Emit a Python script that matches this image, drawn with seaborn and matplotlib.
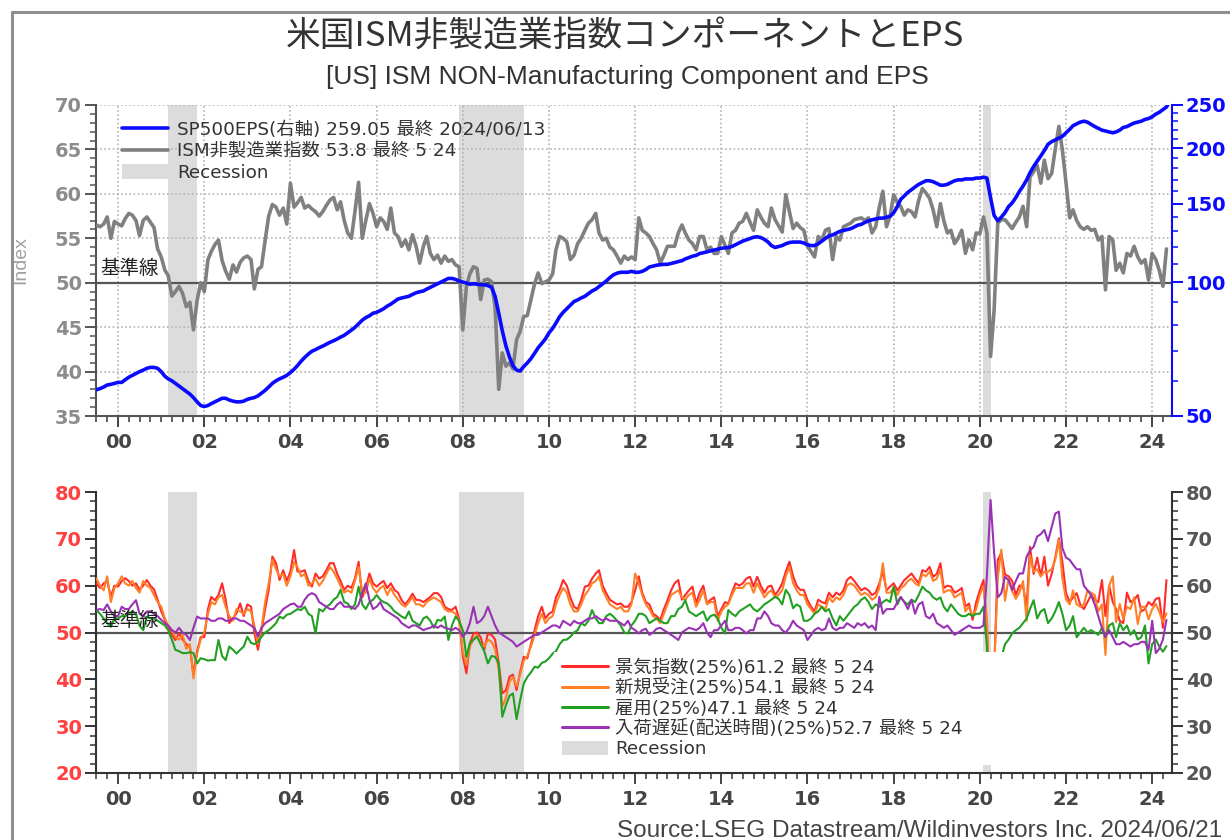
import numpy as np
import pandas as pd
import matplotlib
matplotlib.use("Agg")
import matplotlib.pyplot as plt
import matplotlib.dates as mdates
from matplotlib.ticker import MultipleLocator, FixedLocator, NullFormatter, FuncFormatter
from matplotlib.lines import Line2D
from matplotlib.patches import Patch
import seaborn as sns

# ---------------------------------------------------------------- data
# monthly observations, Jul 1999 .. May 2024
start_month = "1999-07-01"
end_month = "2024-05-01"

ism_services = [
    56.5, 56.3, 56.6, 57.4, 55.0, 56.9,
    56.6, 56.4, 57.2, 57.8, 57.6, 57.0, 55.3, 57.0, 57.4, 56.8, 56.2, 53.8,
    52.9, 51.4, 50.8, 48.5, 49.0, 49.6, 48.8, 47.3, 47.8, 44.7, 48.0, 50.0,
    49.0, 52.6, 53.5, 54.3, 54.8, 52.5, 51.3, 50.4, 52.0, 51.2, 52.3, 52.8,
    53.0, 52.6, 49.3, 51.5, 51.8, 54.8, 57.5, 58.8, 58.5, 57.6, 58.4, 56.6,
    61.2, 58.5, 59.0, 59.6, 58.4, 58.7, 58.3, 58.0, 57.5, 58.0, 58.7, 59.3,
    59.6, 58.2, 59.1, 57.0, 55.6, 55.0, 58.0, 61.3, 55.0, 57.0, 58.9, 57.8,
    56.3, 57.3, 56.9, 56.0, 58.4, 55.6, 55.2, 54.1, 54.8, 53.7, 55.4, 54.1,
    52.2, 54.1, 55.2, 53.3, 52.6, 53.1, 52.2, 53.0, 52.4, 52.6, 52.0, 51.8,
    44.7, 49.6, 51.0, 51.8, 51.6, 48.1, 50.3, 50.4, 50.1, 47.3, 38.0, 42.1,
    40.6, 41.0, 40.3, 43.6, 44.5, 46.2, 46.3, 48.1, 49.9, 51.1, 49.9, 50.1,
    50.3, 51.0, 53.7, 55.2, 55.0, 54.6, 52.6, 53.1, 54.4, 55.0, 55.9, 56.7,
    57.1, 57.8, 55.6, 54.8, 55.0, 54.0, 53.7, 53.0, 52.2, 53.0, 52.6, 52.9,
    52.6, 57.3, 55.9, 55.6, 55.2, 54.4, 53.7, 52.2, 53.1, 54.1, 54.1, 54.1,
    55.6, 56.5, 55.6, 54.8, 54.4, 53.7, 55.2, 55.2, 53.7, 54.0, 53.3, 53.3,
    55.2, 54.2, 53.3, 55.6, 55.9, 56.7, 56.9, 57.8, 56.8, 55.9, 58.2, 57.4,
    56.7, 56.3, 58.4, 57.1, 56.4, 55.7, 59.9, 58.0, 56.1, 56.7, 56.2, 55.9,
    54.1, 53.5, 52.9, 55.2, 54.8, 55.9, 56.1, 52.6, 55.2, 54.8, 56.3, 56.5,
    56.7, 57.1, 57.2, 57.3, 57.0, 57.3, 55.6, 56.3, 58.5, 60.3, 56.3, 57.5,
    59.9, 59.0, 58.6, 57.6, 58.2, 58.0, 57.4, 59.3, 60.6, 60.1, 59.5, 58.2,
    56.3, 58.9, 57.0, 55.6, 55.9, 54.4, 55.0, 55.9, 53.3, 54.8, 53.7, 55.6,
    55.5, 57.4, 55.6, 41.7, 46.9, 56.7, 57.1, 57.1, 56.6, 56.1, 56.8, 57.4,
    58.6, 56.3, 61.9, 62.5, 63.2, 61.2, 63.8, 61.7, 62.3, 65.0, 67.6, 64.9,
    61.2, 57.3, 58.2, 57.0, 56.3, 56.0, 56.3, 55.9, 56.0, 54.8, 55.2, 49.2,
    55.2, 54.8, 51.4, 52.2, 51.1, 53.3, 53.0, 54.1, 52.9, 52.2, 52.6, 50.3,
    53.3, 52.6, 51.4, 49.6, 53.8,
]

sp500_eps = [
    57.3, 57.6, 58.1, 58.7, 58.9, 59.2,
    59.5, 59.5, 60.3, 61.1, 61.7, 62.3, 62.9, 63.4, 64.0, 64.3, 64.3, 64.0,
    62.9, 61.4, 60.6, 60.0, 59.2, 58.4, 57.6, 56.8, 56.0, 55.0, 53.8, 52.8,
    52.5, 52.8, 53.3, 53.8, 54.3, 54.8, 54.8, 54.3, 54.0, 53.8, 53.8, 54.0,
    54.5, 54.8, 55.0, 55.5, 56.3, 57.1, 58.1, 59.2, 60.0, 60.6, 61.1, 61.7,
    62.6, 63.7, 64.9, 66.4, 67.7, 68.9, 69.9, 70.5, 71.2, 71.8, 72.5, 73.2,
    73.8, 74.5, 75.2, 75.9, 76.9, 78.0, 79.1, 80.6, 82.1, 83.2, 84.0, 85.1,
    85.5, 86.3, 87.1, 88.3, 89.2, 90.4, 91.6, 92.1, 92.5, 92.9, 93.8, 94.6,
    95.1, 95.5, 96.4, 97.3, 98.2, 99.1, 100.0, 100.9, 101.9, 101.9, 101.4, 100.5,
    100.0, 99.5, 98.9, 99.1, 98.9, 98.6, 98.6, 98.2, 97.3, 92.9, 85.1, 77.7,
    71.8, 67.7, 64.9, 63.4, 63.1, 64.6, 65.8, 67.3, 69.2, 71.2, 72.8, 74.5,
    76.9, 78.7, 80.9, 83.6, 85.5, 87.1, 88.7, 90.4, 91.2, 92.1, 92.9, 94.2,
    95.5, 96.4, 97.7, 99.1, 100.5, 102.3, 103.8, 104.7, 105.2, 105.2, 105.2, 105.7,
    105.2, 105.2, 105.7, 106.7, 108.1, 108.6, 109.1, 109.4, 109.6, 109.6, 110.1, 110.6,
    111.2, 111.7, 112.7, 113.5, 114.3, 114.8, 115.9, 116.4, 116.9, 117.5, 118.0, 118.5,
    119.1, 119.4, 119.6, 120.2, 121.3, 122.4, 123.6, 124.4, 125.3, 126.1, 126.4, 125.9,
    124.7, 123.0, 120.8, 119.6, 120.2, 120.8, 121.9, 122.7, 123.0, 123.0, 123.0, 122.4,
    121.3, 120.8, 120.8, 121.9, 123.6, 125.3, 127.0, 127.6, 128.8, 130.0, 130.6, 131.2,
    131.8, 133.0, 134.2, 134.8, 136.1, 137.3, 138.0, 138.6, 139.2, 139.2, 139.9, 140.5,
    143.2, 147.8, 153.4, 156.2, 159.1, 161.3, 163.6, 165.8, 167.4, 168.9, 168.9, 168.1,
    166.6, 165.1, 165.1, 165.8, 167.4, 168.9, 169.7, 169.7, 170.5, 170.5, 170.5, 171.3,
    171.3, 172.1, 171.3, 154.8, 141.2, 137.3, 139.9, 143.2, 147.8, 150.6, 154.8, 159.8,
    164.3, 169.7, 176.0, 181.8, 186.9, 192.1, 197.5, 204.0, 206.8, 208.7, 210.6, 212.6,
    216.5, 220.5, 224.6, 226.7, 228.8, 229.9, 228.8, 226.2, 223.6, 221.6, 219.5, 218.5,
    217.5, 216.5, 217.5, 219.5, 222.6, 223.6, 225.7, 227.7, 228.8, 229.9, 232.0, 233.1,
    235.2, 238.5, 240.7, 244.0, 247.4,
]
eps_last_date = "2024-06-13"
eps_last_value = 259.05

business_activity = [
    60.5, 59.5, 60.5, 61.0, 57.6, 60.0,
    59.8, 61.0, 61.6, 61.0, 60.0, 60.5, 59.1, 60.0, 61.2, 60.0, 59.2, 57.0,
    54.5, 52.7, 51.0, 49.5, 48.4, 49.8, 48.5, 47.5, 47.0, 41.0, 46.0, 49.0,
    49.0, 55.0, 57.6, 56.9, 58.0, 60.5, 57.0, 52.0, 53.0, 54.1, 56.2, 53.5,
    56.0, 55.5, 50.0, 46.3, 50.5, 55.0, 59.1, 66.2, 64.8, 61.2, 63.3, 61.0,
    63.0, 67.6, 63.0, 63.0, 63.3, 61.0, 59.8, 62.6, 61.5, 62.0, 63.3, 64.8,
    64.8, 62.5, 61.0, 59.1, 60.0, 59.5, 61.5, 65.1, 57.5, 59.5, 62.6, 60.5,
    59.8, 60.5, 61.0, 59.5, 60.5, 59.1, 58.5, 56.9, 56.0, 57.0, 58.3, 57.0,
    56.9, 56.5, 57.0, 57.6, 58.4, 58.4, 57.6, 55.5, 55.0, 54.8, 55.5, 53.0,
    45.0, 41.3, 47.7, 49.8, 50.0, 49.0, 46.3, 49.8, 49.5, 48.5, 43.4, 37.0,
    37.7, 40.6, 41.0, 37.7, 41.5, 44.8, 44.5, 47.5, 50.5, 53.5, 55.5, 53.0,
    54.0, 54.5, 57.5, 59.1, 61.2, 60.0, 57.5, 55.5, 55.0, 57.0, 59.8, 60.0,
    61.5, 62.6, 63.3, 60.0, 58.4, 57.0, 56.5, 56.0, 56.2, 55.5, 55.5, 56.5,
    59.0, 62.0, 58.5, 56.5, 56.0, 54.0, 53.5, 52.7, 55.0, 56.9, 59.0, 60.5,
    61.2, 57.0, 58.0, 59.0, 59.8, 56.2, 58.5, 60.0, 56.2, 57.0, 57.5, 53.5,
    55.0, 56.5, 56.2, 58.5, 60.5, 60.0, 60.5, 61.5, 61.9, 59.8, 61.9, 60.0,
    58.5, 59.8, 60.0, 58.0, 59.0, 60.5, 63.0, 65.1, 62.0, 60.0, 59.1, 59.1,
    56.9, 55.5, 54.5, 57.0, 56.5, 56.2, 58.5, 57.5, 58.5, 58.0, 59.0, 61.2,
    61.9, 61.0, 60.0, 59.0, 59.5, 59.0, 58.0, 58.5, 60.5, 63.0, 59.0, 59.8,
    60.5, 59.0, 60.0, 61.2, 61.9, 62.6, 61.5, 60.5, 63.3, 63.0, 64.0, 61.9,
    62.5, 64.8, 59.5, 60.0, 59.8, 58.5, 58.9, 59.5, 55.5, 56.2, 52.7, 56.5,
    59.0, 61.2, 51.0, 26.0, 41.0, 65.5, 67.0, 62.4, 62.0, 61.0, 58.0, 60.0,
    59.9, 55.5, 68.3, 62.5, 66.0, 62.0, 66.2, 60.0, 62.5, 66.0, 70.1, 65.0,
    58.4, 56.5, 57.5, 58.4, 56.0, 55.0, 56.5, 58.0, 57.0, 56.5, 61.2, 53.5,
    60.0, 56.5, 55.0, 52.5, 52.0, 58.5, 56.5, 57.0, 58.0, 54.5, 55.0, 56.5,
    55.8, 57.2, 57.4, 51.0, 61.2,
]

new_orders = [
    61.5, 60.0, 59.0, 62.0, 56.5, 59.5,
    60.5, 62.0, 60.5, 60.0, 61.0, 59.5, 58.5, 61.0, 60.0, 59.5, 58.0, 56.5,
    55.5, 53.0, 51.5, 50.5, 49.0, 48.5, 49.5, 46.5, 47.5, 40.2, 45.5, 48.5,
    50.0, 54.0, 56.5, 56.0, 57.5, 58.0, 55.5, 53.5, 52.5, 55.0, 54.5, 54.0,
    55.0, 54.5, 51.5, 47.5, 51.0, 56.5, 60.5, 65.5, 63.5, 62.0, 62.5, 60.0,
    62.0, 65.0, 64.0, 62.0, 62.5, 60.0, 60.5, 61.5, 60.0, 61.0, 62.5, 64.0,
    63.0, 61.5, 60.0, 58.5, 59.0, 58.5, 61.0, 64.0, 58.5, 58.5, 61.5, 59.5,
    58.5, 59.5, 60.0, 58.0, 59.5, 58.0, 57.0, 56.0, 55.5, 56.5, 57.5, 56.0,
    56.0, 55.5, 56.5, 57.0, 57.5, 57.0, 56.5, 55.0, 54.5, 54.5, 54.0, 52.5,
    46.0, 43.0, 47.0, 48.5, 49.5, 47.5, 47.0, 48.5, 48.0, 46.5, 42.0, 34.2,
    36.0, 39.5, 40.5, 38.5, 41.0, 44.0, 45.0, 47.0, 49.5, 52.0, 54.0, 52.0,
    53.0, 53.5, 56.0, 58.0, 59.5, 58.5, 56.0, 54.5, 54.5, 56.0, 58.0, 59.0,
    60.5, 61.0, 62.0, 59.0, 57.5, 56.0, 55.5, 55.0, 55.5, 54.5, 54.5, 56.0,
    62.6, 60.5, 58.0, 56.0, 55.0, 53.5, 53.0, 52.0, 54.0, 56.0, 58.0, 58.5,
    59.0, 57.5, 57.0, 58.0, 58.5, 55.5, 57.0, 59.0, 56.0, 56.5, 56.5, 52.5,
    54.5, 55.5, 56.0, 58.0, 59.5, 59.5, 59.5, 60.5, 60.5, 58.5, 60.5, 59.0,
    57.5, 58.5, 59.0, 57.5, 58.0, 59.0, 62.0, 64.0, 60.5, 59.0, 58.0, 58.0,
    56.0, 55.0, 54.0, 56.0, 55.5, 55.0, 57.5, 56.5, 57.5, 57.0, 58.0, 60.0,
    60.5, 60.0, 59.0, 58.0, 58.5, 58.0, 57.0, 57.5, 59.5, 64.8, 58.5, 58.5,
    59.5, 58.0, 59.5, 60.0, 61.0, 61.5, 60.5, 60.0, 62.5, 62.0, 63.0, 61.0,
    61.5, 63.5, 58.5, 59.0, 59.0, 57.5, 58.0, 58.5, 54.5, 55.5, 53.5, 55.0,
    58.0, 60.0, 52.9, 32.9, 41.9, 61.6, 67.7, 56.8, 61.5, 58.8, 57.2, 58.5,
    61.0, 52.5, 66.5, 63.0, 63.5, 62.0, 63.0, 63.0, 63.5, 65.5, 69.8, 61.5,
    57.0, 56.0, 59.0, 56.0, 55.5, 56.0, 59.0, 58.5, 58.0, 54.5, 56.0, 45.2,
    60.0, 62.0, 52.2, 56.1, 52.9, 55.5, 55.0, 57.5, 51.8, 55.5, 55.5, 52.8,
    55.0, 56.1, 54.4, 52.2, 54.1,
]

employment = [
    54.8, 54.0, 53.0, 52.0, 51.2, 53.0,
    53.0, 53.5, 53.5, 54.0, 54.5, 54.0, 51.5, 50.5, 53.4, 53.0, 53.0, 52.5,
    52.0, 51.5, 50.5, 48.5, 46.3, 46.0, 45.6, 45.6, 45.8, 45.6, 43.4, 44.5,
    44.3, 44.0, 44.1, 44.1, 48.4, 45.0, 44.1, 47.0, 46.3, 45.5, 46.3, 47.0,
    49.1, 47.8, 47.5, 48.0, 49.1, 50.0, 50.5, 51.2, 52.0, 53.4, 53.0, 53.8,
    54.0, 54.5, 55.0, 54.8, 55.5, 54.0, 53.5, 49.8, 55.0, 54.5, 55.5, 56.0,
    57.0, 57.6, 59.1, 56.5, 56.2, 55.0, 56.0, 59.8, 56.0, 55.0, 56.5, 57.0,
    58.0, 57.0, 56.5, 56.2, 55.5, 54.5, 54.0, 53.4, 53.0, 54.5, 52.5, 52.0,
    51.5, 53.0, 53.4, 52.5, 51.0, 52.7, 52.5, 53.4, 48.4, 51.5, 53.4, 52.5,
    50.5, 44.8, 47.7, 48.5, 49.1, 47.5, 46.0, 43.4, 45.0, 44.8, 43.4, 32.0,
    34.5, 36.5, 37.0, 31.5, 35.5, 39.1, 40.5, 41.5, 42.7, 42.5, 43.5, 43.8,
    44.5, 45.5, 46.0, 47.5, 48.4, 48.5, 49.1, 50.0, 50.5, 52.0, 51.5, 52.5,
    54.8, 53.0, 52.0, 52.0, 53.5, 54.0, 53.4, 52.5, 51.5, 50.0, 49.8, 51.5,
    52.5, 54.0, 54.0, 53.5, 52.0, 52.5, 53.0, 52.5, 52.0, 52.0, 53.5, 53.5,
    55.0, 55.5, 56.9, 54.5, 54.0, 53.5, 54.0, 54.5, 52.5, 53.5, 53.8, 53.0,
    51.0, 49.8, 54.8, 54.0, 53.5, 54.5, 55.0, 55.5, 56.0, 55.0, 54.5, 55.2,
    56.0, 56.5, 57.0, 57.6, 57.2, 56.0, 59.1, 58.0, 55.2, 56.0, 55.5, 52.5,
    52.5, 53.0, 54.0, 54.5, 55.5, 54.5, 55.0, 53.0, 51.5, 53.5, 52.5, 53.5,
    54.5, 55.5, 56.0, 57.0, 57.5, 56.5, 55.0, 56.0, 55.5, 56.5, 57.0, 56.5,
    59.8, 56.0, 57.5, 56.5, 56.0, 57.0, 56.5, 58.0, 59.8, 59.0, 58.5, 57.5,
    57.0, 57.5, 55.5, 54.5, 56.0, 55.0, 54.0, 53.5, 53.5, 54.0, 53.5, 54.0,
    54.0, 55.5, 47.0, 30.0, 31.8, 40.0, 44.5, 47.5, 48.5, 49.8, 50.5, 51.0,
    52.0, 53.0, 55.0, 56.9, 53.0, 54.5, 55.0, 52.0, 53.0, 54.5, 56.5, 54.0,
    50.5, 51.5, 53.5, 49.0, 50.0, 51.0, 50.0, 50.5, 50.0, 49.5, 51.0, 49.0,
    51.5, 52.0, 49.0, 52.0, 50.5, 51.5, 49.5, 50.5, 48.5, 49.0, 51.5, 43.4,
    47.5, 48.5, 47.0, 45.9, 47.1,
]

supplier_deliveries = [
    54.8, 55.0, 54.8, 56.0, 54.5, 53.5,
    53.5, 55.5, 55.0, 55.0, 56.0, 56.9, 54.0, 53.5, 54.5, 54.5, 54.0, 53.5,
    52.7, 52.0, 51.5, 50.5, 50.0, 51.0, 50.0, 49.5, 48.4, 51.0, 53.4, 53.0,
    53.0, 53.0, 52.5, 52.5, 53.0, 53.0, 52.5, 52.5, 53.0, 53.0, 52.5, 52.5,
    52.0, 51.5, 51.0, 49.1, 51.0, 52.0, 52.5, 53.0, 53.5, 54.0, 55.0, 55.5,
    56.0, 56.2, 55.5, 55.5, 57.0, 58.0, 58.4, 58.0, 56.5, 56.0, 55.5, 55.0,
    55.0, 56.0, 56.5, 55.5, 55.5, 55.5, 55.0, 56.0, 58.4, 60.5, 57.0, 55.0,
    55.5, 56.5, 55.0, 54.5, 54.0, 53.5, 53.0, 52.0, 51.5, 51.0, 51.5, 51.5,
    51.0, 50.5, 50.8, 51.0, 51.5, 51.0, 51.5, 51.0, 50.8, 50.5, 51.0, 50.5,
    49.1, 50.0, 52.0, 55.5, 52.0, 52.5, 53.5, 55.5, 53.5, 51.5, 50.0, 49.5,
    49.0, 48.5, 48.0, 47.0, 47.5, 48.0, 48.5, 49.0, 49.5, 49.5, 50.0, 50.5,
    51.0, 51.5, 51.5, 51.0, 52.5, 52.0, 51.5, 52.5, 52.0, 52.0, 52.5, 53.0,
    53.0, 53.5, 53.0, 52.5, 53.0, 52.5, 52.5, 52.5, 52.0, 51.5, 52.5, 51.0,
    50.5, 49.8, 50.5, 50.8, 49.5, 50.0, 50.8, 51.0, 50.5, 50.0, 49.5, 49.0,
    48.4, 50.0, 50.5, 51.0, 50.8, 50.5, 51.0, 52.0, 50.0, 49.0, 50.5, 50.5,
    51.5, 52.5, 50.5, 50.5, 51.0, 51.0, 50.5, 49.8, 50.5, 50.5, 53.0, 53.0,
    54.5, 53.5, 52.0, 51.5, 51.5, 50.5, 50.0, 51.0, 52.5, 51.5, 51.0, 50.5,
    48.4, 49.5, 50.5, 51.0, 50.5, 50.8, 53.0, 51.0, 50.5, 51.0, 51.0, 52.0,
    51.5, 51.0, 52.0, 51.5, 52.0, 51.0, 51.5, 50.5, 57.6, 54.0, 55.0, 55.0,
    55.0, 56.5, 57.6, 56.5, 55.0, 57.0, 54.0, 56.0, 56.5, 53.5, 53.0, 54.0,
    52.0, 51.5, 51.0, 51.5, 50.5, 49.5, 50.0, 50.5, 51.0, 51.5, 51.0, 51.0,
    51.0, 51.5, 62.1, 78.3, 67.0, 57.5, 58.4, 61.9, 61.2, 59.1, 61.0, 62.6,
    62.6, 66.2, 67.5, 68.3, 70.5, 71.0, 71.9, 69.5, 72.5, 75.4, 75.8, 68.0,
    66.0, 65.5, 64.5, 63.5, 63.5, 60.0, 59.0, 58.0, 56.0, 53.5, 51.0, 49.1,
    50.5, 49.0, 47.5, 47.5, 48.0, 47.5, 47.0, 47.5, 47.5, 48.0, 48.0, 46.3,
    52.5, 45.6, 46.5, 48.5, 52.7,
]

# recession months (first month, last month)
recessions = [("2001-03-01", "2001-11-01"),
              ("2007-12-01", "2009-06-01"),
              ("2020-02-01", "2020-04-01")]

title_jp = "米国ISM非製造業指数コンポーネントとEPS"
title_en = "[US] ISM NON-Manufacturing Component and EPS"
source_text = "Source:LSEG Datastream/Wildinvestors Inc. 2024/06/21"
top_labels = ["SP500EPS(右軸) 259.05 最終 2024/06/13",
              "ISM非製造業指数 53.8 最終 5 24",
              "Recession"]
bottom_labels = ["景気指数(25%)61.2 最終 5 24",
                 "新規受注(25%)54.1 最終 5 24",
                 "雇用(25%)47.1 最終 5 24",
                 "入荷遅延(配送時間)(25%)52.7 最終 5 24",
                 "Recession"]

# ---------------------------------------------------------------- style
sns.set_style("ticks")
plt.rcParams["font.family"] = ["Liberation Sans", "Noto Sans CJK JP", "DejaVu Sans"]
LEGEND_FONT = {"family": ["DejaVu Sans", "Noto Sans CJK JP"], "size": 13.2}
TICK_FAMILY = "DejaVu Sans"

C_GRAY = "#808080"
C_BLUE = "#0a0aff"
C_RED = "#ff2a2a"
C_ORANGE = "#ff7f27"
C_GREEN = "#22a022"
C_PURPLE = "#9932b4"
C_REC = "#dcdcdc"
C_AXIS = "#555555"

months = pd.date_range(start_month, end_month, freq="MS")
eps_dates = months.append(pd.DatetimeIndex([eps_last_date]))
eps_values = sp500_eps + [eps_last_value]

W, H = 1230, 840
fig = plt.figure(figsize=(W / 100, H / 100), dpi=100)
fig.patch.set_facecolor("white")


def frac_rect(x0, y0, x1, y1):
    return [x0 / W, 1 - y1 / H, (x1 - x0) / W, (y1 - y0) / H]


ax1 = fig.add_axes(frac_rect(96, 105, 1172, 416))
ax1r = ax1.twinx()
ax2 = fig.add_axes(frac_rect(96, 492, 1172, 773))

xmin, xmax = pd.Timestamp("1999-06-28"), pd.Timestamp("2024-06-17")

# ---------------------------------------------------------------- top panel
for s, e in recessions:
    ax1.axvspan(pd.Timestamp(s), pd.Timestamp(e), color=C_REC, lw=0, zorder=0)
ax1.grid(True, which="major", axis="both", linestyle=(0, (1, 1.5)),
         color="#b4b4b4", lw=1.2, zorder=0.5)
ax1.axhline(50, color=C_AXIS, lw=1.6, zorder=1)
sns.lineplot(x=months, y=ism_services, ax=ax1, color=C_GRAY, lw=2.6,
             estimator=None, legend=False, zorder=3)
ax1r.set_yscale("log")
sns.lineplot(x=eps_dates, y=eps_values, ax=ax1r, color=C_BLUE, lw=2.6,
             estimator=None, legend=False, zorder=3)

ax1.set_xlim(xmin, xmax)
ax1.set_ylim(35, 70)
ax1r.set_ylim(50, 250)
ax1.yaxis.set_major_locator(MultipleLocator(5))
ax1.yaxis.set_minor_locator(MultipleLocator(1))
ax1r.yaxis.set_major_locator(FixedLocator([50, 100, 150, 200, 250]))
ax1r.yaxis.set_minor_locator(FixedLocator([60, 70, 80, 90] + list(range(110, 250, 10))))
ax1r.yaxis.set_major_formatter(FuncFormatter(lambda v, p: f"{v:.0f}"))
ax1r.yaxis.set_minor_formatter(NullFormatter())

ax1.set_xlabel("")
ax1.set_ylabel("Index", color="#a0a0a0", fontsize=14)
ax1.yaxis.set_label_coords(-0.062, 0.5)
ax1r.set_ylabel("")

ax1.spines["top"].set_visible(False)
ax1r.spines["top"].set_visible(False)
ax1.spines["right"].set_visible(False)
ax1r.spines["left"].set_visible(False)
ax1r.spines["bottom"].set_visible(False)
ax1.spines["left"].set_color(C_AXIS)
ax1.spines["bottom"].set_color(C_AXIS)
ax1.spines["left"].set_linewidth(1.5)
ax1.spines["bottom"].set_linewidth(1.5)
ax1r.spines["right"].set_color(C_BLUE)
ax1r.spines["right"].set_linewidth(1.5)

ax1.text(0.004, 50.4, "基準線", transform=ax1.get_yaxis_transform(),
         ha="left", va="bottom", fontsize=14, color="#222222", zorder=5,
         family=["Noto Sans CJK JP"])

top_handles = [Line2D([], [], color=C_BLUE, lw=2.6),
               Line2D([], [], color=C_GRAY, lw=2.6),
               Patch(facecolor=C_REC, edgecolor="none")]
leg1 = ax1r.legend(top_handles, top_labels, loc="upper left",
                   bbox_to_anchor=(0.024, 0.95), frameon=False, prop=LEGEND_FONT,
                   handlelength=2.5, handleheight=0.8, labelspacing=0.2,
                   handletextpad=0.5, borderaxespad=0, borderpad=0)
for t in leg1.get_texts():
    t.set_color("#333333")

# ---------------------------------------------------------------- bottom panel
for s, e in recessions:
    ax2.axvspan(pd.Timestamp(s), pd.Timestamp(e), color=C_REC, lw=0, zorder=0)
ax2.axhline(50, color=C_AXIS, lw=1.6, zorder=1)
for vals, col in ((business_activity, C_RED), (new_orders, C_ORANGE),
                  (employment, C_GREEN), (supplier_deliveries, C_PURPLE)):
    sns.lineplot(x=months, y=vals, ax=ax2, color=col, lw=1.5,
                 estimator=None, legend=False, zorder=3)

ax2.set_xlim(xmin, xmax)
ax2.set_ylim(20, 80)
ax2.yaxis.set_major_locator(MultipleLocator(10))
ax2.yaxis.set_minor_locator(MultipleLocator(2))
ax2.set_xlabel("")
ax2.set_ylabel("")
ax2.spines["top"].set_visible(False)
for sp in ("left", "bottom", "right"):
    ax2.spines[sp].set_color("#333333")
    ax2.spines[sp].set_linewidth(1.5)

ax2.text(0.004, 50.4, "基準線", transform=ax2.get_yaxis_transform(),
         ha="left", va="bottom", fontsize=14, color="#222222", zorder=5,
         family=["Noto Sans CJK JP"])

bottom_handles = [Line2D([], [], color=C_RED, lw=2.2),
                  Line2D([], [], color=C_ORANGE, lw=2.2),
                  Line2D([], [], color=C_GREEN, lw=2.2),
                  Line2D([], [], color=C_PURPLE, lw=2.2),
                  Patch(facecolor=C_REC, edgecolor="none")]
# the legend box is widened to the right so it masks the area beneath it
leg2 = ax2.legend(bottom_handles, bottom_labels, loc="upper left",
                  bbox_to_anchor=(0.426, 0.0, 0.43, 0.432), mode="expand",
                  frameon=True, prop=LEGEND_FONT,
                  handlelength=2.5, handleheight=0.8, labelspacing=0.12,
                  handletextpad=0.4, borderaxespad=0, borderpad=0.4,
                  fancybox=False)
leg2.get_frame().set_facecolor("white")
leg2.get_frame().set_edgecolor("none")
leg2.get_frame().set_alpha(1)
leg2.set_zorder(10)
for t in leg2.get_texts():
    t.set_color("#333333")

# ---------------------------------------------------------------- ticks
for ax in (ax1, ax2):
    ax.xaxis.set_major_locator(mdates.YearLocator(2))
    ax.xaxis.set_major_formatter(mdates.DateFormatter("%y"))
    ax.xaxis.set_minor_locator(mdates.MonthLocator(bymonth=[1, 4, 7, 10]))
    ax.tick_params(axis="x", which="major", direction="out", length=8, width=1.4,
                   color="#444444", labelcolor="#444444", labelsize=14, pad=4,
                   labelfontfamily=TICK_FAMILY)
    ax.tick_params(axis="x", which="minor", direction="out", length=4, width=1.2,
                   color="#444444")

ax1.tick_params(axis="y", which="major", direction="out", length=8, width=1.4,
                color=C_AXIS, labelcolor="#8c8c8c", labelsize=14, pad=2,
                labelfontfamily=TICK_FAMILY)
ax1.tick_params(axis="y", which="minor", direction="out", length=4.5, width=1.1,
                color=C_AXIS)
ax1r.tick_params(axis="y", which="major", direction="out", length=8, width=1.4,
                 color=C_BLUE, labelcolor=C_BLUE, labelsize=14, pad=2,
                 labelfontfamily=TICK_FAMILY)
ax1r.tick_params(axis="y", which="minor", direction="out", length=4.5, width=1.1,
                 color=C_BLUE)
ax2.tick_params(axis="y", which="major", direction="out", length=8, width=1.4,
                color="#333333", labelcolor="#ff4040", labelsize=14, pad=2,
                right=True, labelright=True, labelfontfamily=TICK_FAMILY)
ax2.tick_params(axis="y", which="minor", direction="out", length=4.5, width=1.1,
                color="#333333", right=True)

# ---------------------------------------------------------------- titles, frame, source
fig.text(625 / W, 1 - 36 / H, title_jp, ha="center", va="center", fontsize=25,
         color="#333333", family=["Noto Sans CJK JP", "DejaVu Sans"])
fig.text(627 / W, 1 - 77 / H, title_en, ha="center", va="center", fontsize=19,
         color="#333333")
fig.text(1222 / W, 1 - 831 / H, source_text, ha="right", va="center",
         fontsize=17.5, color="#444444")

fig.add_artist(Line2D([12 / W, 12 / W], [0, 1 - 12 / H], transform=fig.transFigure,
                      color="#8f8f8f", lw=2.2))
fig.add_artist(Line2D([12 / W, 1], [1 - 12 / H, 1 - 12 / H], transform=fig.transFigure,
                      color="#8f8f8f", lw=2.2))

# heavier tick labels
fig.canvas.draw()
for ax in (ax1, ax1r, ax2):
    for lbl in ax.get_xticklabels() + ax.get_yticklabels():
        lbl.set_fontweight("bold")
for tick in ax2.yaxis.get_major_ticks():
    tick.label2.set_color("#555555")
    tick.label2.set_fontweight("bold")

fig.savefig("out.png", dpi=100, facecolor="white")
